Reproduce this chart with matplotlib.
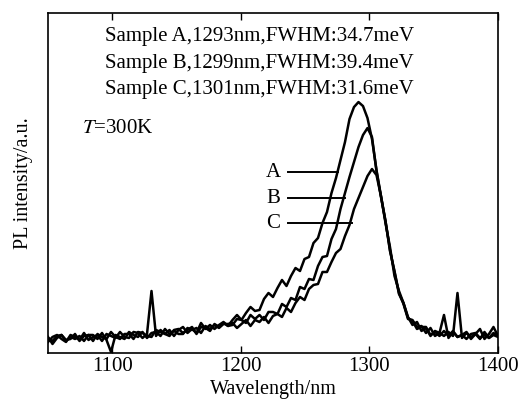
import matplotlib

matplotlib.use("Agg")
import matplotlib.pyplot as plt

# wavelength grid (nm), one sample every 3.5 nm
wavelength = [1050 + 3.5 * k for k in range(101)]

# PL intensity (a.u.)
sample_a = [
    16, 9, 15, 18, 13, 14, 19, 12, 17, 18, 12, 19, 16, 14, 21, 16, 14, 19, 19, 14,
    21, 20, 17, 16, 23, 21, 19, 23, 17, 23, 26, 20, 24, 20, 30, 24, 28, 24, 28, 31,
    27, 33, 38, 33, 40, 46, 42, 43, 54, 60, 56, 65, 73, 67, 77, 85, 82, 94, 96, 110,
    115, 130, 141, 160, 175, 193, 211, 234, 246, 251, 247, 235, 214, 183, 157, 132, 103, 81, 59, 50,
    36, 28, 31, 22, 25, 17, 22, 20, 38, 15, 21, 16, 18, 21, 14, 19, 24, 14, 19, 26,
    17,
]
sample_b = [
    11, 16, 18, 14, 11, 18, 16, 13, 20, 13, 16, 18, 12, 19, 17, 15, 21, 16, 15, 21,
    20, 15, 19, 62, 17, 23, 19, 17, 23, 24, 20, 23, 26, 19, 26, 25, 22, 29, 26, 30,
    27, 28, 34, 33, 30, 38, 34, 38, 33, 41, 41, 39, 49, 46, 55, 53, 66, 64, 74, 73,
    87, 96, 97, 114, 124, 144, 160, 176, 191, 206, 218, 225, 216, 182, 156, 132, 102, 82, 60, 49,
    34, 33, 26, 27, 20, 25, 17, 20, 17, 21, 17, 60, 15, 20, 16, 19, 14, 21, 15, 18,
    16,
]
sample_c = [
    15, 12, 17, 18, 12, 16, 14, 17, 12, 18, 18, 14, 20, 13, 1, 18, 16, 14, 21, 18,
    16, 21, 15, 20, 21, 17, 24, 19, 22, 19, 19, 25, 23, 25, 20, 27, 24, 28, 25, 29,
    29, 30, 25, 29, 33, 27, 33, 31, 36, 30, 37, 39, 36, 45, 41, 50, 56, 53, 64, 68,
    69, 81, 81, 91, 100, 104, 117, 128, 144, 155, 166, 177, 184, 178, 157, 130, 106, 77, 62, 50,
    35, 32, 24, 26, 26, 18, 21, 17, 22, 17, 22, 16, 18, 14, 19, 20, 15, 18, 15, 20,
    17,
]

header_lines = [
    "Sample A,1293nm,FWHM:34.7meV",
    "Sample B,1299nm,FWHM:39.4meV",
    "Sample C,1301nm,FWHM:31.6meV",
]
curve_labels = ["A", "B", "C"]
x_ticks = [1100, 1200, 1300, 1400]

plt.rcParams["font.family"] = ["Liberation Serif", "DejaVu Serif"]
plt.rcParams["mathtext.fontset"] = "stix"

fig = plt.figure(figsize=(5.19, 4.09), dpi=100)
axis = fig.add_axes([0.0925, 0.137, 0.867, 0.831])

for values in (sample_a, sample_b, sample_c):
    axis.plot(wavelength, values, color="black", linewidth=1.8)

axis.set_xlim(1050, 1400)
axis.set_ylim(0, 340)
axis.set_xticks(x_ticks)
axis.set_yticks([])
axis.tick_params(axis="x", direction="in", length=5, width=1, top=True, labelsize=15, pad=3)
for spine in axis.spines.values():
    spine.set_linewidth(1.2)

axis.set_xlabel("Wavelength/nm", fontsize=14.5, labelpad=3)
axis.set_ylabel("PL intensity/a.u.", fontsize=14.5, labelpad=11)

for row, line in enumerate(header_lines):
    axis.text(0.127, 0.93 - row * 0.078, line, transform=axis.transAxes,
              fontsize=15, va="center", ha="left")
axis.text(0.075, 0.66, "$T$=300K", transform=axis.transAxes, fontsize=15, va="center", ha="left")

# leader lines from the curve labels to the spectra
label_y = [181, 155, 130]
leader_end = [1275.6, 1281.0, 1286.4]
for name, y_value, x_end in zip(curve_labels, label_y, leader_end):
    axis.text(1225, y_value, name, fontsize=15, va="center", ha="center")
    axis.plot([1236.5, x_end], [y_value, y_value], color="black", linewidth=1.4)

fig.savefig("out.png", dpi=100)
